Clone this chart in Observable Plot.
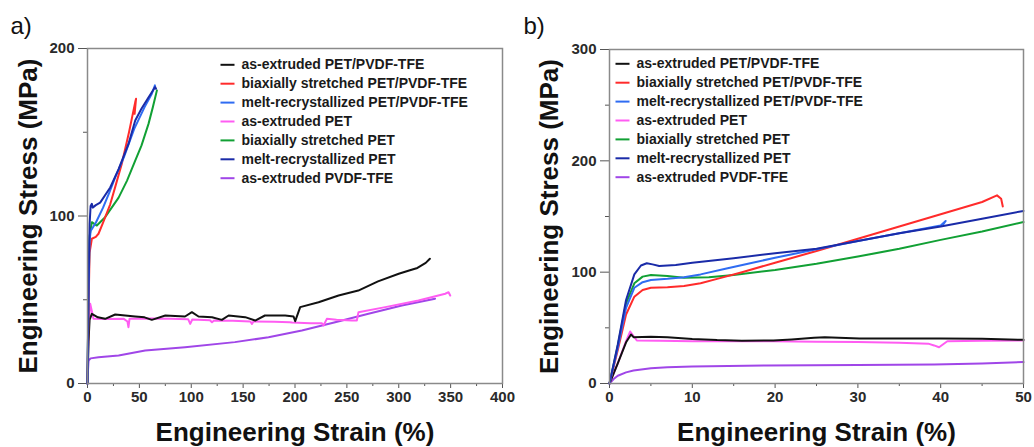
<!DOCTYPE html>
<html>
<head>
<meta charset="utf-8">
<script src="https://cdn.jsdelivr.net/npm/d3@7"></script>
<script src="https://cdn.jsdelivr.net/npm/@observablehq/plot@0.6"></script>
<style>
  html, body { margin: 0; padding: 0; background: #fff; }
  #wrap { display: flex; width: 1034px; height: 447px; overflow: hidden; font-family: "Liberation Sans", Arial, sans-serif; }
  #wrap svg { overflow: visible; }
</style>
</head>
<body>
<div id="wrap"></div>
<script>
// ---- legend / series ----
const seriesNames = [
  "as-extruded PET/PVDF-TFE",
  "biaxially stretched PET/PVDF-TFE",
  "melt-recrystallized PET/PVDF-TFE",
  "as-extruded PET",
  "biaxially stretched PET",
  "melt-recrystallized PET",
  "as-extruded PVDF-TFE"
];
const seriesColors = ["#111111", "#ff2b2b", "#2f6cf2", "#ff5cf2", "#11a034", "#1a2ba8", "#a046e8"];
const drawOrder = [6, 3, 0, 4, 1, 2, 5];

// ---- panel a) : strain (%) , stress (MPa) ----
const aXTicks = [0, 50, 100, 150, 200, 250, 300, 350, 400];
const aYTicks = [0, 100, 200];
const aBlendExtruded = [[0,0],[1,25],[2,38],[4.2,41.6],[10,39.5],[17,38.6],[26.7,41.2],[46,40],[55,39.5],[62,38],[75,40.6],[94,40],[100.6,42.6],[107,40],[120,39.6],[129.5,38],[136,40.6],[152,39.6],[161.6,37.6],[171,40.6],[190.5,40.6],[198.6,40],[200.2,37.2],[205,45.6],[222.7,48.5],[242,52.5],[261,55.5],[280,61],[300,65.5],[310,67.5],[318,69],[322,70.5],[326,72],[330,74.5]];
const aBlendBiaxial = [[0,0],[1,45],[2,78],[4.2,86.4],[8,87.5],[10.6,89.4],[15,96],[21.9,107],[27,118],[33,131],[40,150],[46,168],[46.8,170],[45.4,161]];
const aBlendMelt = [[0,0],[1,55],[2,85],[3,91],[5,93],[8,96],[15,105],[21,114],[26.7,123],[35,135],[45,152],[55,165],[62,173],[65,178]];
const aPetExtruded = [[0,0],[1,35],[2.6,47.6],[5.8,38.6],[20,38.5],[35,38.6],[38.5,37],[39.5,33.6],[40.5,38.6],[60,38.8],[80,38.6],[97,38.4],[99,35.6],[101,38.2],[118,37.8],[120,36.6],[122,37.6],[140,37.4],[157,37],[158.5,35.6],[160,37],[180,36.8],[195,36.6],[197,36.4],[215,36],[226,36],[227.5,34.6],[230.7,38.6],[240,38],[254.8,37.6],[259.6,37.6],[261.2,42.6],[287,45.6],[319,49.6],[344.8,53.6],[348,54.5],[349.6,52.5]];
const aPetBiaxial = [[0,0],[1,55],[2,88],[4.2,96.3],[9,94.3],[17,99.3],[30,111],[38,121],[46,133],[52,142],[58.8,155],[63,165],[66.9,175]];
const aPetMelt = [[0,0],[1,60],[2,95],[3,106],[4.2,107.3],[5,105],[8,106.5],[12.2,108],[21.9,117],[30,128],[39.5,143],[46,157],[52,164],[58,170],[65.2,177],[66,176]];
const aPvdfExtruded = [[0,0],[0.5,8],[1,13.7],[3,15],[10.6,15.7],[30,16.7],[55.6,19.7],[94,21.7],[142,24.7],[174.5,27.6],[206.6,31.6],[238.7,36.6],[270.8,41.6],[303,46.6],[335,50.6]];

// ---- panel b) : strain (%) , stress (MPa) ----
const bXTicks = [0, 10, 20, 30, 40, 50];
const bYTicks = [0, 100, 200, 300];
const bBlendExtruded = [[0,0],[1,18],[2,37],[2.6,44],[2.9,41.6],[5,42],[7,41.5],[10,40],[13,39],[16,38.5],[19.8,38.6],[22,39.5],[24.7,41],[26,41.5],[30.2,40.5],[35,40.5],[40,40.5],[45,40.3],[50,39.2]];
const bBlendBiaxial = [[0,0],[1,30],[2,62],[3,78],[4,84],[5,86],[7,86.5],[9,87.5],[11,90],[13,94],[16,100],[20,108.5],[25,119],[30,130],[35,141],[40,152],[45,163],[46.8,169],[47.3,166],[47.5,159]];
const bBlendMelt = [[0,0],[1,32],[2,68],[3,86],[4,91],[5,93],[7,94],[9,95.5],[11,98],[14,103],[17,108],[20,113],[25,120.5],[30,128],[35,135],[40,142],[40.6,146],[40.3,143]];
const bPetExtruded = [[0,0],[1,18],[2,38],[2.5,46.7],[3.3,38.6],[6,38.4],[10,38],[19.8,38],[25,37.6],[30,37.2],[35,36.6],[38.5,35.8],[39.2,34.2],[39.8,32.6],[40.8,38],[45,38.5],[50,38.6]];
const bPetBiaxial = [[0,0],[1,34],[2,72],[3,90],[4,96],[5,97.5],[7,96.5],[9,95],[12,95.5],[15,97.5],[20,102],[25,107.5],[30,114],[35,121],[40,129],[45,136.5],[50,145]];
const bPetMelt = [[0,0],[1,35],[2,75],[3,98],[3.8,106],[4.5,108],[5.2,107],[6,105.5],[8,106.5],[10,108.5],[15,112.5],[20,117],[25,121],[30,128],[35,135],[40,141],[45,148],[50,155]];
const bPvdfExtruded = [[0,0],[0.5,4],[1,7],[2,10],[2.9,11.7],[5,13.8],[7,14.7],[10,15.3],[19,16.2],[30,16.6],[39.2,17],[45,18],[50,19.2]];

const aSeries = [aBlendExtruded, aBlendBiaxial, aBlendMelt, aPetExtruded, aPetBiaxial, aPetMelt, aPvdfExtruded];
const bSeries = [bBlendExtruded, bBlendBiaxial, bBlendMelt, bPetExtruded, bPetBiaxial, bPetMelt, bPvdfExtruded];

const xLabel = "Engineering Strain (%)";
const yLabel = "Engineering Stress (MPa)";

function range(a, b, s) { return d3.range(a, b + s / 2, s); }

function panel(opts) {
  const rows = [];
  for (const i of drawOrder) {
    for (const [x, y] of opts.series[i]) rows.push({series: seriesNames[i], x, y});
  }
  const [xmin, xmax] = opts.xDomain, [ymin, ymax] = opts.yDomain;
  const pw = opts.width - opts.ml - opts.mr, ph = opts.height - opts.mt - opts.mb;
  const xOf = px => xmin + (px - opts.ml) / pw * (xmax - xmin);
  const yOf = py => ymin + (opts.height - opts.mb - py) / ph * (ymax - ymin);
  const legend = seriesNames.map((name, i) => ({
    name,
    x1: xOf(opts.legX), x2: xOf(opts.legX + 14), xt: xOf(opts.legX + 21),
    y: yOf(opts.legY + i * 18.9)
  }));
  const tickFont = {fontSize: 15, fontWeight: "bold", fill: "#2a2a2a", stroke: "#555"};
  return Plot.plot({
    width: opts.width, height: opts.height,
    marginLeft: opts.ml, marginRight: opts.mr, marginTop: opts.mt, marginBottom: opts.mb,
    style: {fontFamily: "Liberation Sans, Arial, sans-serif", background: "#fff", overflow: "visible"},
    x: {domain: opts.xDomain},
    y: {domain: opts.yDomain},
    color: {domain: seriesNames, range: seriesColors},
    marks: [
      Plot.axisX({ticks: opts.xMinor, tickSize: 3, tickFormat: () => "", stroke: "#555", label: null}),
      Plot.axisX({ticks: opts.xTicks, tickSize: 5, tickPadding: 3, ...tickFont, label: null}),
      Plot.axisY({ticks: opts.yMinor, tickSize: 4, tickFormat: () => "", stroke: "#555", label: null}),
      Plot.axisY({ticks: opts.yTicks, tickSize: 9, tickPadding: 4, ...tickFont, label: null}),
      Plot.line(rows, {x: "x", y: "y", z: "series", stroke: "series", strokeWidth: 2, curve: "linear"}),
      Plot.frame({stroke: "#8a8a8a", strokeWidth: 1.5}),
      Plot.link(legend, {x1: "x1", x2: "x2", y1: "y", y2: "y", stroke: "name", strokeWidth: 2}),
      Plot.text(legend, {x: "xt", y: "y", text: "name", textAnchor: "start", lineAnchor: "middle", fontSize: 14, fontWeight: "bold", fill: "#1a1a1a"}),
      Plot.text([yLabel], {text: d => d, frameAnchor: "left", dx: opts.yLabDx, rotate: -90, textAnchor: "middle", lineAnchor: "middle", fontSize: 26, fontWeight: "bold", fill: "#111"}),
      Plot.text([xLabel], {text: d => d, frameAnchor: "bottom", dy: 49, textAnchor: "middle", lineAnchor: "middle", fontSize: 26, fontWeight: "bold", fill: "#111"}),
      Plot.text([opts.tag], {text: d => d, frameAnchor: "top-left", dx: opts.tagDx, dy: 33 - opts.mt, textAnchor: "start", lineAnchor: "bottom", fontSize: 24, fill: "#111"})
    ]
  });
}

const wrap = document.getElementById("wrap");
wrap.append(panel({
  series: aSeries, width: 517, height: 447, ml: 87, mr: 15, mt: 48, mb: 64,
  xDomain: [0, 400], yDomain: [0, 200],
  xTicks: aXTicks, yTicks: aYTicks, xMinor: range(25, 375, 50), yMinor: [50, 150],
  legX: 220, legY: 64.3, yLabDx: -59, tag: "a)", tagDx: -77
}));
wrap.append(panel({
  series: bSeries, width: 517, height: 447, ml: 92, mr: 11, mt: 49, mb: 64,
  xDomain: [0, 50], yDomain: [0, 300],
  xTicks: bXTicks, yTicks: bYTicks, xMinor: range(5, 45, 10), yMinor: [50, 150, 250],
  legX: 98, legY: 63.3, yLabDx: -60, tag: "b)", tagDx: -86
}));
</script>
</body>
</html>
